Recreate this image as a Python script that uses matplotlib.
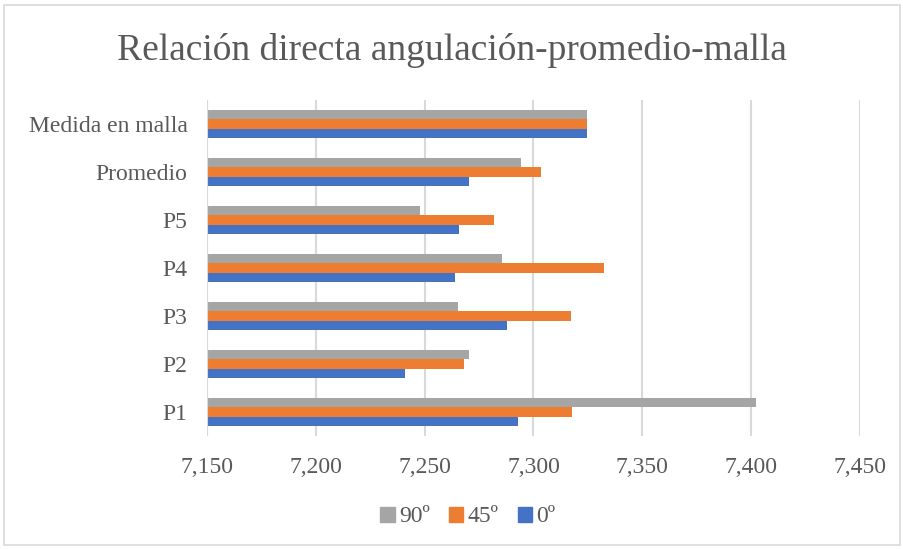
import matplotlib.pyplot as plt
import matplotlib.patches as mpatches
import numpy as np

categories = ['P1', 'P2', 'P3', 'P4', 'P5', 'Promedio', 'Medida en malla']
deg0 = [7292.9, 7240.8, 7287.6, 7263.8, 7265.9, 7270.2, 7324.8]
deg45 = [7317.7, 7268.2, 7317.0, 7332.2, 7281.7, 7303.4, 7324.8]
deg90 = [7402.4, 7270.3, 7265.2, 7285.7, 7248.0, 7294.3, 7324.8]
series_names = ['0º', '45º', '90º']
colors = ['#4472C4', '#ED7D31', '#A5A5A5']
xticks = [7150, 7200, 7250, 7300, 7350, 7400, 7450]

plt.rcParams['font.family'] = ['Liberation Serif', 'DejaVu Serif']
TEXT = '#595959'

fig = plt.figure(figsize=(9.04, 5.49), dpi=100)
ax = fig.add_axes([207 / 904, 1 - 436 / 549, (860 - 207) / 904, (436 - 100) / 549])

y = np.arange(len(categories))
h = 0.2
base = xticks[0]
for i, (vals, c) in enumerate(zip([deg0, deg45, deg90], colors)):
    ax.barh(y + (i - 1) * h, np.array(vals) - base, height=h, left=base,
            color=c, label=series_names[i], zorder=3)

ax.set_xlim(xticks[0], xticks[-1])
ax.set_ylim(-0.5, len(categories) - 0.5)
ax.set_yticks(y)
ax.set_yticklabels(categories)
ax.set_xticks(xticks)
ax.set_xticklabels([f'{v:,}' for v in xticks])
ax.tick_params(axis='both', length=0, labelsize=17, colors=TEXT)
ax.tick_params(axis='x', pad=15)
ax.tick_params(axis='y', pad=14)
ax.grid(axis='x', color='#d9d9d9', linewidth=1.5, zorder=0)
ax.axvline(xticks[0], color='#d9d9d9', linewidth=1.5, zorder=4)
for s in ax.spines.values():
    s.set_visible(False)

fig.text(0.5, 1 - 51 / 549, 'Relación directa angulación-promedio-malla',
         ha='center', va='center', fontsize=27, color=TEXT)

handles = [mpatches.Patch(color=colors[2], label=series_names[2]),
           mpatches.Patch(color=colors[1], label=series_names[1]),
           mpatches.Patch(color=colors[0], label=series_names[0])]
fig.legend(handles=handles, loc='center', bbox_to_anchor=(468 / 904, 1 - 517 / 549),
           ncol=3, frameon=False, fontsize=17, labelcolor=TEXT,
           handlelength=0.6, handleheight=0.6, handletextpad=0.2, columnspacing=0.8)

fig.add_artist(plt.Rectangle((4 / 904, 4 / 549), 896 / 904, 540 / 549, transform=fig.transFigure,
                             fill=False, edgecolor='#d9d9d9', linewidth=1.2))

fig.savefig('out.png', dpi=100)
